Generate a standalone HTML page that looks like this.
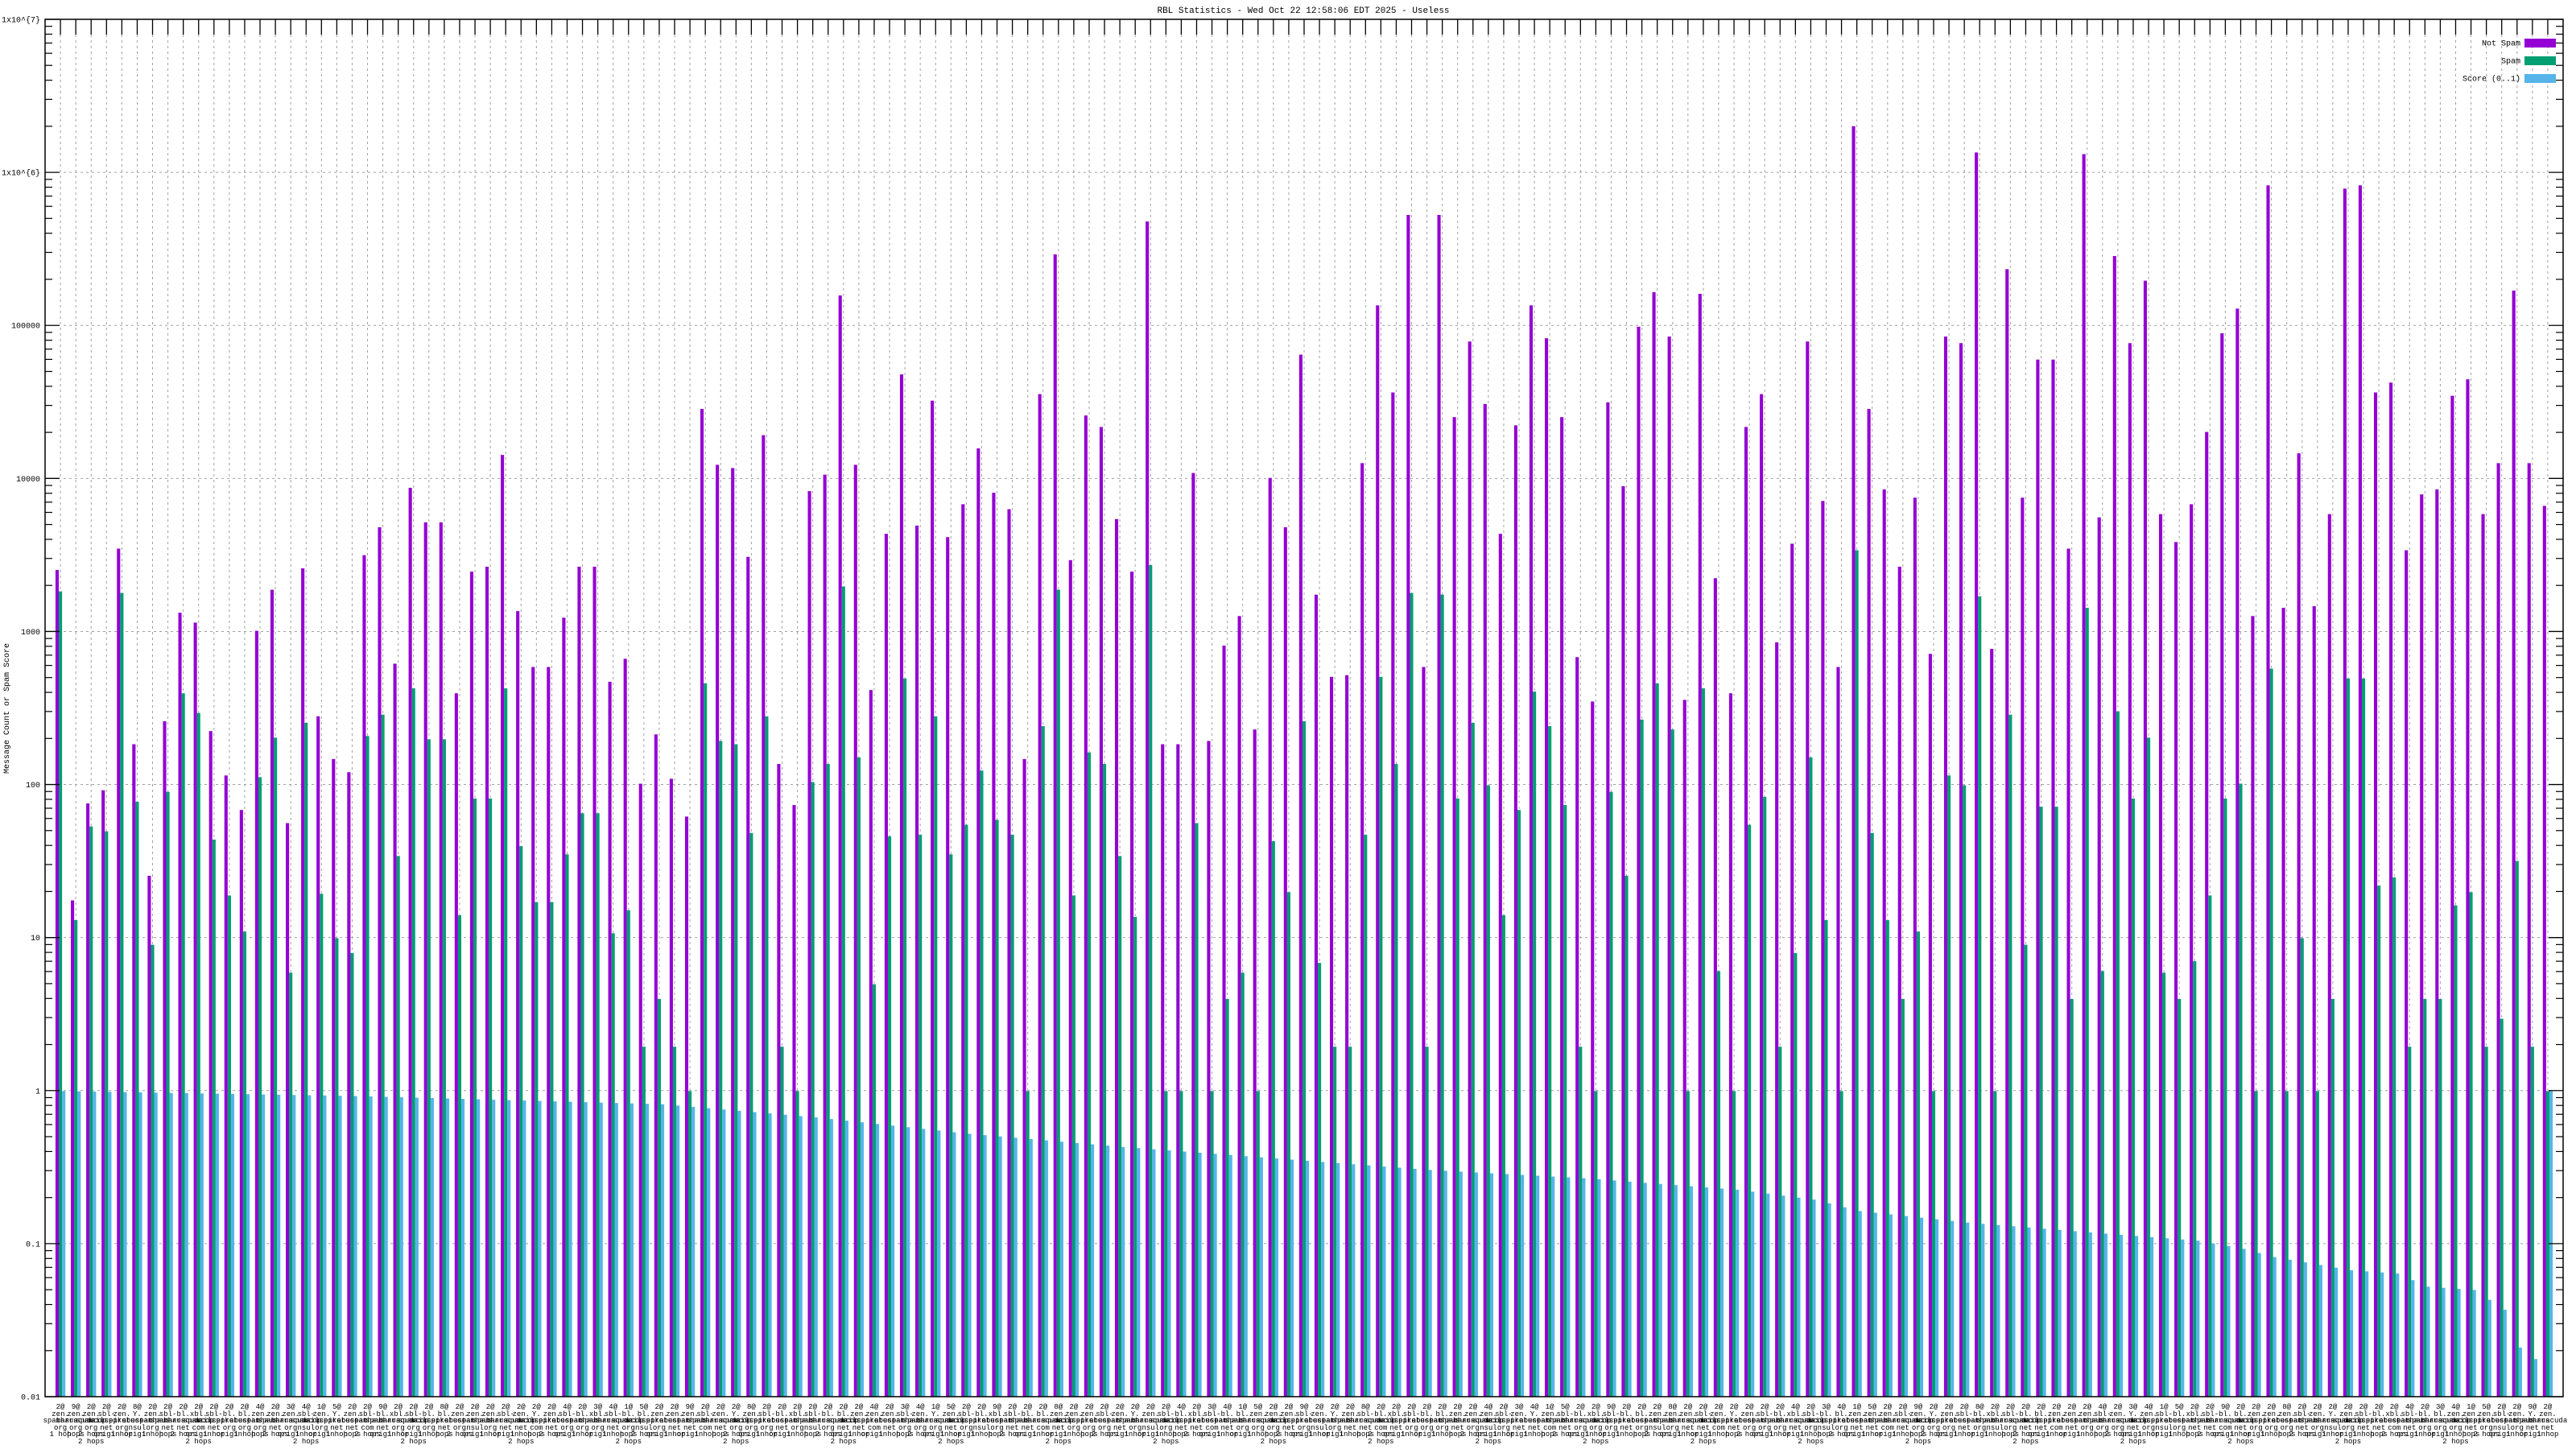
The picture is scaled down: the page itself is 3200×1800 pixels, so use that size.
<!DOCTYPE html>
<html><head><meta charset="utf-8"><style>
html,body{margin:0;padding:0;background:#fff;}
svg{display:block;}
text{font-family:"Liberation Mono","DejaVu Sans Mono",monospace;fill:#000;}
</style></head><body>
<svg id="c" xmlns="http://www.w3.org/2000/svg" width="3200" height="1800" viewBox="0 0 3200 1800">
<rect width="3200" height="1800" fill="#fff"/>
<text x="1619" y="16" font-size="11" text-anchor="middle">RBL Statistics - Wed Oct 22 12:58:06 EDT 2025 - Useless</text>
<text transform="translate(11,880) rotate(-90)" font-size="10" text-anchor="middle">Message Count or Spam Score</text>
</svg>
<script>
var svg=document.getElementById('c');var NS='http://www.w3.org/2000/svg';
function el(t,a,txt){var e=document.createElementNS(NS,t);for(var k in a)e.setAttribute(k,a[k]);if(txt!==undefined)e.textContent=txt;svg.appendChild(e);return e;}
var L=56,R=3184,T=24,B=1735,D=(B-T)/9;
function yv(v){return T+(7-Math.log10(v))*D;}
function oy(o){return 24+(o-12)*2.042;}
var N=163,S=(R-L)/(N+1);
// grid
for(var i=1;i<=N;i++){var x=L+i*S;el('line',{x1:x,y1:T+19,x2:x,y2:B,stroke:'#a0a0a0','stroke-width':1,'stroke-dasharray':'3,4'});}
for(var d=0;d<9;d++){var y=T+d*D;el('line',{x1:L+23,y1:y,x2:R-23,y2:y,stroke:'#a0a0a0','stroke-width':1,'stroke-dasharray':'3,4'});}
var P=[347,548,489,481,334,453,533,439,373,379,445,472,493,384,359,501,346,436,462,470,338,321,404,297,318,318,422,348,345,277,372,406,406,376,345,345,415,401,477,447,474,497,249,283,285,339,265,465,490,299,289,180,283,420,325,228,320,244,327,307,273,300,310,462,240,155,341,253,260,316,348,135,453,453,288,451,393,375,444,291,321,216,362,412,411,282,186,239,131,406,131,254,208,246,325,259,186,206,254,400,427,245,296,199,178,205,426,179,352,422,260,240,391,331,208,305,406,77,249,298,345,303,398,205,209,93,395,164,303,219,219,334,94,315,156,209,171,313,330,307,263,203,188,375,113,370,276,369,313,115,113,239,233,335,301,298,241,231,313,282,177,282,308];
var G=[360,560,503,506,361,488,575,482,422,434,511,545,567,473,449,592,440,544,571,580,448,435,521,419,450,450,557,486,486,419,515,549,549,520,495,495,568,554,637,608,637,664,416,451,453,507,436,637,664,476,465,357,461,599,509,413,508,436,520,502,469,499,508,664,442,359,545,458,465,521,558,344,664,664,501,664,608,592,664,512,543,439,586,637,637,508,412,465,361,637,362,486,440,478,557,493,421,442,490,637,664,482,533,438,416,444,664,419,591,664,502,485,637,580,461,560,664,335,507,560,608,567,664,472,478,363,664,435,575,491,491,608,370,591,433,486,449,592,608,585,545,486,477,664,407,664,571,664,608,413,413,539,534,637,608,608,551,543,637,620,524,637,664];
var K=[[1,664],[20,667],[40,672],[50,680],[60,690],[70,698],[80,705],[90,712],[100,717],[110,724],[115,730],[118,737],[125,744],[133,750],[140,755],[143,760],[145,765],[150,773],[153,775],[155,783],[158,785],[160,797],[161,820],[162,827]];
function blue(i){if(i==163)return 664;for(var k=0;k<K.length-1;k++){if(i>=K[k][0]&&i<=K[k+1][0]){var f=(i-K[k][0])/(K[k+1][0]-K[k][0]);return K[k][1]+f*(K[k+1][1]-K[k][1]);}}return 827;}
var bw=4.1;
var r1=['2@','2@','9@','2@','2@','2@','8@','2@','2@','2@','2@','2@','2@','2@','4@','2@','3@','4@','1@','5@'];
var r2=['bl.','zen.','zen.','zen.','sbl-','zen.','Y.','zen.','sbl-','bl.','xbl.','sbl-','bl.'];
var r3=['spamhaus','spamhaus','barracuda','spamcop','mailspike','uceprotect','abuseat'];
var r4=['net','org','org','org','net','org','nsul','org','net','net','com'];
var r5=['origin','1 hop','hops','2 hops','origin','1 hop'];
for(var i=1;i<=N;i++){var cx=L+i*S;
var py=oy(P[i-1]),gy=oy(G[i-1]),by=oy(blue(i));
el('rect',{x:cx-1.5*bw,y:py,width:bw,height:B-py,fill:'#9400d3'});
el('rect',{x:cx-0.5*bw,y:gy,width:bw,height:B-gy,fill:'#009e73'});
el('rect',{x:cx+0.5*bw,y:by,width:bw,height:B-by,fill:'#56b4e9'});
el('text',{x:cx,y:1750,'font-size':9,'text-anchor':'middle'},r1[i%r1.length]);
el('text',{x:cx,y:1759,'font-size':9,'text-anchor':'middle'},r2[i%r2.length]);
el('text',{x:cx,y:1767,'font-size':9,'text-anchor':'middle'},r3[i%r3.length]);
el('text',{x:cx,y:1776,'font-size':9,'text-anchor':'middle'},r4[i%r4.length]);
el('text',{x:cx,y:1784,'font-size':9,'text-anchor':'middle'},r5[i%r5.length]);
if(i%7==3)el('text',{x:cx,y:1793,'font-size':9,'text-anchor':'middle'},'2 hops');
// top tick
el('line',{x1:cx,y1:T,x2:cx,y2:T+19,stroke:'#000','stroke-width':1.3});
}
// y ticks and labels
var labs=['1x10^{7}','1x10^{6}','100000','10000','1000','100','10','1','0.1','0.01'];
for(var d=0;d<=9;d++){var y=T+d*D;
el('text',{x:50,y:y+3.5,'font-size':10,'text-anchor':'end'},labs[d]);
el('line',{x1:L,y1:y,x2:L+18,y2:y,stroke:'#000','stroke-width':1.3});
el('line',{x1:R,y1:y,x2:R-18,y2:y,stroke:'#000','stroke-width':1.3});
if(d<9)for(var m=2;m<=9;m++){var yy=y+D-Math.log10(m)*D;
el('line',{x1:L,y1:yy,x2:L+9,y2:yy,stroke:'#000','stroke-width':1.2});
el('line',{x1:R,y1:yy,x2:R-9,y2:yy,stroke:'#000','stroke-width':1.2});}
}
el('rect',{x:L,y:T,width:R-L,height:B-T,fill:'none',stroke:'#000','stroke-width':1.5});
// legend
var lg=[['Not Spam','#9400d3',53],['Spam','#009e73',75],['Score (0..1)','#56b4e9',97]];
lg.forEach(function(a){el('rect',{x:3136,y:a[2]-5,width:39,height:11,fill:'#fff'});el('rect',{x:3136,y:a[2]-5,width:39,height:11,fill:a[1]});
el('text',{x:3131,y:a[2]+3.5,'font-size':10,'text-anchor':'end'},a[0]);});
</script>
</body></html>
